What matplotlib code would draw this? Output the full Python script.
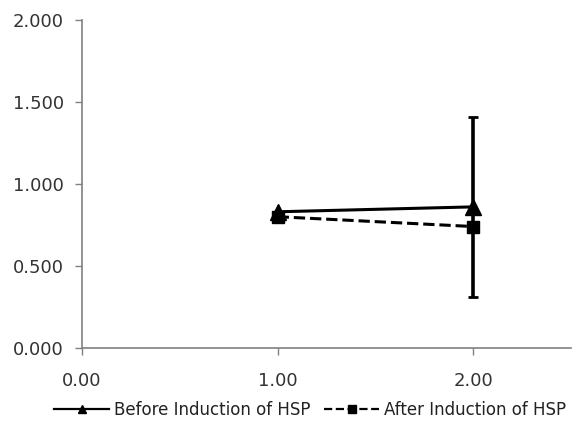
import matplotlib
matplotlib.use("Agg")
import matplotlib.pyplot as plt
from matplotlib.lines import Line2D

plt.rcParams['font.family'] = ['DejaVu Sans']

# values
x_vals = [1.0, 2.0]
before = [0.83, 0.86]
before_err = [0.0, 0.55]
after = [0.80, 0.74]
after_err = [0.0, 0.0]
labels = ['Before Induction of HSP', 'After Induction of HSP']
x_ticks = [0.0, 1.0, 2.0]
y_ticks = [0.0, 0.5, 1.0, 1.5, 2.0]

fig = plt.figure(figsize=(5.77, 4.41), dpi=100)
ax = fig.add_axes([0.142, 0.211, 0.848, 0.744])

ax.errorbar(x_vals, before, yerr=before_err, color='black', lw=2.2,
            marker='^', ms=11, capsize=3.5, capthick=2, elinewidth=2.6,
            zorder=3)
ax.errorbar(x_vals, after, yerr=after_err, color='black', lw=2.2, ls='--',
            marker='s', ms=8.5, capsize=3.5, capthick=2, elinewidth=2.6,
            zorder=3)

ax.set_xlim(0, 2.5)
ax.set_ylim(0, 2.0)
ax.set_xticks(x_ticks)
ax.set_xticklabels([f"{v:.2f}" for v in x_ticks])
ax.set_yticks(y_ticks)
ax.set_yticklabels([f"{v:.3f}" for v in y_ticks])

for s in ['top', 'right']:
    ax.spines[s].set_visible(False)
for s in ['left', 'bottom']:
    ax.spines[s].set_color('#808080')
    ax.spines[s].set_linewidth(1.2)
ax.tick_params(direction='out', length=5, width=1, color='#808080',
               labelsize=13, labelcolor='#333333')
ax.tick_params(axis='y', pad=8)
ax.tick_params(axis='x', pad=12)

handles = [
    Line2D([], [], color='black', lw=1.6, marker='^', ms=6),
    Line2D([], [], color='black', lw=1.6, ls='--', marker='s', ms=6),
]
fig.legend(handles, labels, loc='center', bbox_to_anchor=(0.538, 0.07),
           ncol=2, frameon=False, fontsize=12, handlelength=3.3,
           handletextpad=0.3, columnspacing=0.8, labelcolor='#222222')

fig.savefig('out.png', dpi=100)
